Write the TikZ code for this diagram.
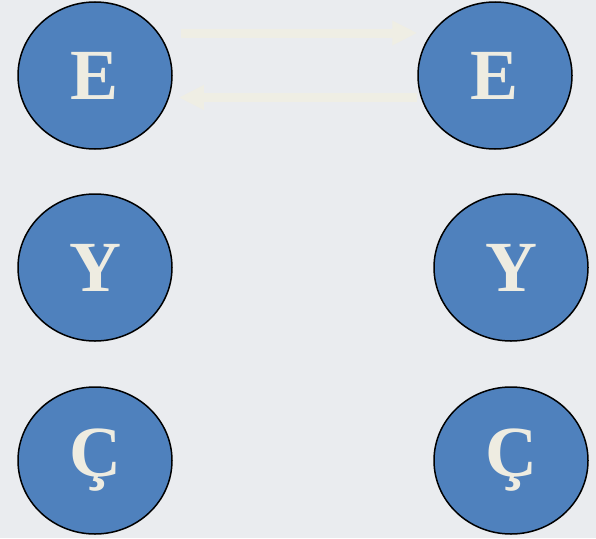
\documentclass[tikz,border=0pt]{standalone}
\usepackage{fontspec}
\setmainfont{Liberation Serif}
\usetikzlibrary{shapes.geometric,arrows.meta}
\definecolor{bluefill}{HTML}{4F81BD}
\definecolor{beige}{HTML}{EEECE1}
\definecolor{bgc}{HTML}{EAECEF}
\definecolor{arrc}{HTML}{EFEEE4}
\tikzset{
  circ/.style={ellipse, draw=black, line width=1.5pt, fill=bluefill,
    minimum width=154pt, minimum height=147pt, inner sep=0pt,
    text=beige, font=\fontsize{72}{72}\bfseries\selectfont},
  arr/.style={draw=arrc, line width=9pt,
    -{Triangle[length=25pt,width=23pt]}}
}
\begin{document}
\begin{tikzpicture}[x=1pt,y=-1pt]
\useasboundingbox (0,0) rectangle (596,538);
\fill[bgc] (0,0) rectangle (596,538);
\node[circ] (E1) at (95,75.5) {E};
\node[circ] (Y1) at (95,267.5) {Y};
\node[circ] (C1) at (95,460.5) {Ç};
\node[circ] (E2) at (495,75.5) {E};
\node[circ] (Y2) at (511,267.5) {Y};
\node[circ] (C2) at (511,460.5) {Ç};
\draw[arr] ([xshift=8pt,yshift=42.5pt]E1.east) -- ([yshift=42.5pt]E2.west);
\draw[arr] ([yshift=-22pt]E2.west) -- ([xshift=6pt,yshift=-22pt]E1.east);
\end{tikzpicture}
\end{document}
